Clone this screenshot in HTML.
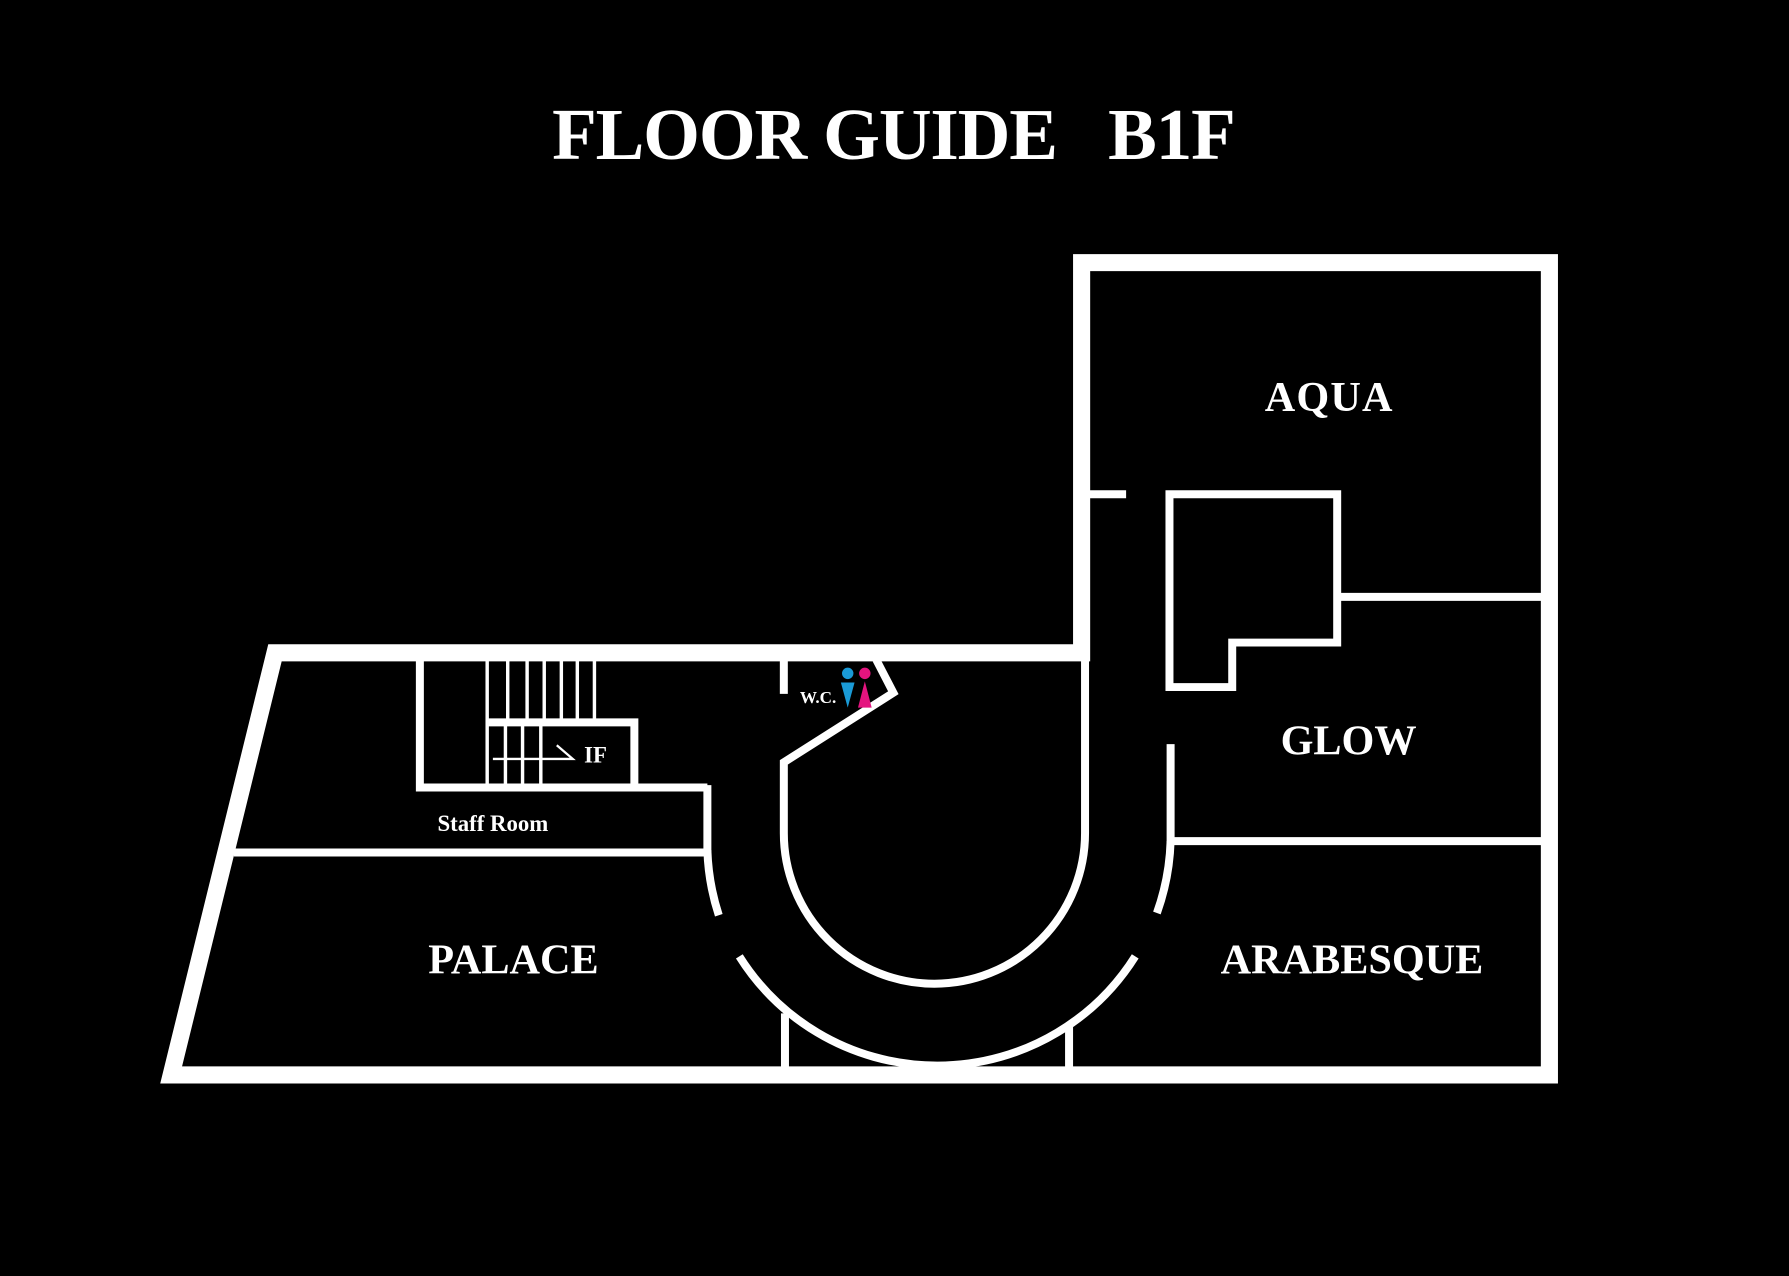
<!DOCTYPE html>
<html><head><style>html,body{margin:0;padding:0;background:#000;}svg{display:block}</style></head>
<body>
<svg width="1789" height="1276" viewBox="0 0 1568 1118" xmlns="http://www.w3.org/2000/svg">
<rect width="1568" height="1118" fill="#000"/>
<g font-family="Liberation Serif, serif" fill="#fff" text-anchor="middle">
<text x="783" y="139" font-size="64" font-weight="bold" letter-spacing="-1" xml:space="preserve">FLOOR GUIDE   B1F</text>
<text x="1165" y="360" font-size="37" font-weight="bold" letter-spacing="1">AQUA</text>
<text x="1182" y="661" font-size="37" font-weight="bold">GLOW</text>
<text x="1185" y="853" font-size="37" font-weight="bold">ARABESQUE</text>
<text x="450" y="853" font-size="37" font-weight="bold">PALACE</text>
<text x="432" y="728" font-size="20" font-weight="bold">Staff Room</text>
<text x="522" y="668" font-size="20" font-weight="bold">IF</text>
<text x="717" y="616" font-size="15" font-weight="bold">W.C.</text>
</g>
<g fill="none" stroke="#fff" stroke-linecap="butt">
<polygon points="241,572 948,572 948,230 1358,230 1358,942 150,942" stroke-width="15" stroke-linejoin="miter"/>
<g stroke-width="7">
<path d="M951,578 V730 A132,132 0 0 1 687,730 V668 L783,607 L768,578"/>
<path d="M687,578 V608"/>
<path d="M955,433 H987"/>
<polygon points="1025,433 1172,433 1172,563 1080,563 1080,602 1025,602"/>
<path d="M1172,523 H1352"/>
<path d="M1026,652 V737 H1352"/>
<path d="M1026,737 A205,205 0 0 1 1014,800"/>
<path d="M620,745 A205,205 0 0 0 630,802"/>
<path d="M648,838 A205,205 0 0 0 995,838"/>
<path d="M688,888 V936 M937,900 V936"/>
<path d="M205,747 H617 M620,688 V750 M368,578 V690 H620"/>
<path d="M428,633 H556 V688"/>
</g>
<g stroke-width="3">
<path d="M427,578 V688"/>
<path d="M445,578 V633 M462,578 V633 M477,578 V633 M492,578 V633 M506,578 V633 M521,578 V633"/>
<path d="M443,633 V688 M458,633 V688 M474,633 V688"/>
</g>
<path d="M432,665 H502 L488,653" stroke-width="2"/>
</g>
<circle cx="743" cy="590" r="5" fill="#1a9ad6"/>
<polygon points="737,598 749,598 743,620" fill="#1a9ad6"/>
<circle cx="758" cy="590" r="5" fill="#e4147f"/>
<polygon points="758,597 752,620 764,620" fill="#e4147f"/>
</svg>
</body></html>
